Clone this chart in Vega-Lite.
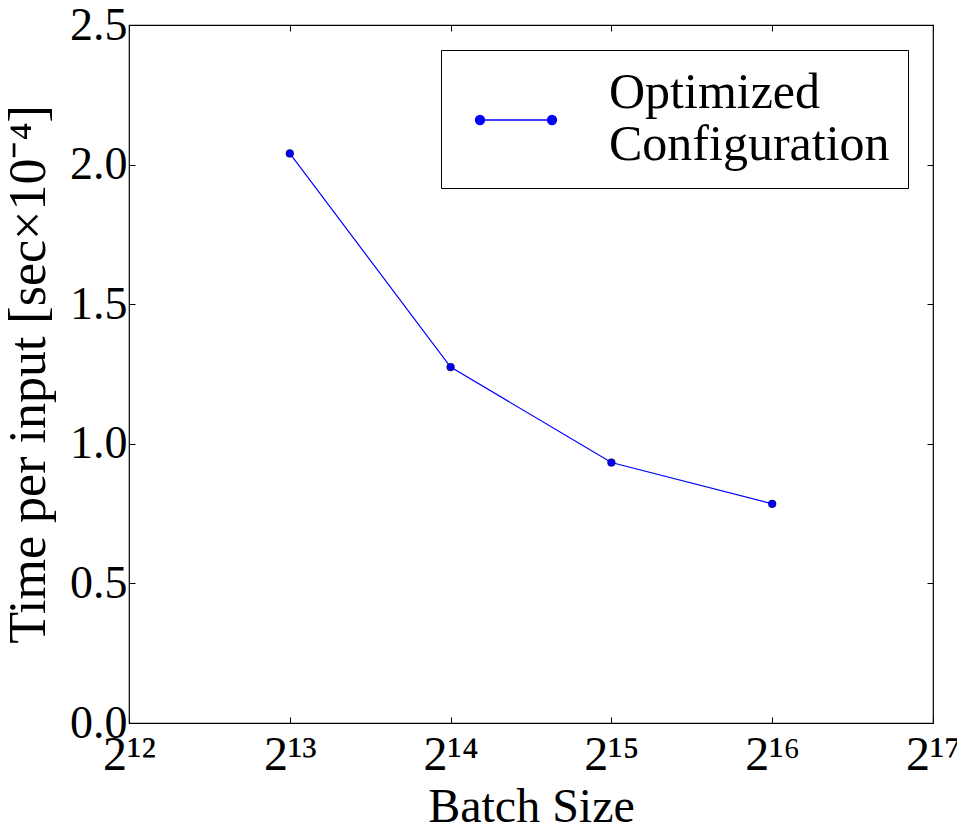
{
  "$schema": "https://vega.github.io/schema/vega-lite/v6.json",
  "autosize": {"type": "none"},
  "padding": {"left": 129, "top": 25, "right": 24, "bottom": 109},
  "width": 804,
  "height": 698,
  "background": "white",
  "config": {
    "view": {"stroke": "black", "strokeWidth": 1.2},
    "font": "Liberation Serif",
    "axis": {
      "labelFont": "Liberation Serif",
      "titleFont": "Liberation Serif",
      "labelColor": "black",
      "titleColor": "black",
      "titleFontWeight": "normal",
      "grid": false,
      "domain": false,
      "tickColor": "black",
      "tickWidth": 1,
      "tickSize": -6,
      "labelFlush": false,
      "labelOverlap": false
    },
    "legend": {
      "labelFont": "Liberation Serif",
      "labelColor": "black"
    }
  },
  "data": {
    "values": [
      {"batch": 8192, "time": 2.04, "series": "Optimized Configuration"},
      {"batch": 16384, "time": 1.275, "series": "Optimized Configuration"},
      {"batch": 32768, "time": 0.933, "series": "Optimized Configuration"},
      {"batch": 65536, "time": 0.785, "series": "Optimized Configuration"}
    ]
  },
  "layer": [
    {
      "mark": {"type": "line", "strokeWidth": 1.2},
      "encoding": {
        "x": {
          "field": "batch", "type": "quantitative",
          "scale": {"type": "log", "base": 2, "domain": [4096, 131072], "nice": false},
          "axis": {
            "orient": "bottom",
            "values": [4096, 8192, 16384, 32768, 65536, 131072],
            "labelExpr": "'2' + (round(log(datum.value)/LN2) == 12 ? '¹²' : round(log(datum.value)/LN2) == 13 ? '¹³' : round(log(datum.value)/LN2) == 14 ? '¹⁴' : round(log(datum.value)/LN2) == 15 ? '¹⁵' : round(log(datum.value)/LN2) == 16 ? '¹⁶' : '¹⁷')",
            "labelFontSize": 48,
            "labelPadding": 14,
            "title": "Batch Size",
            "titleFontSize": 48,
            "titlePadding": 4
          }
        },
        "y": {
          "field": "time", "type": "quantitative",
          "scale": {"domain": [0, 2.5], "nice": false, "zero": true},
          "axis": {
            "orient": "left",
            "values": [0, 0.5, 1, 1.5, 2, 2.5],
            "format": ".1f",
            "labelFontSize": 46,
            "labelPadding": 8,
            "labelBaseline": "middle",
            "title": "Time per input [sec×10⁻⁴]",
            "titleFontSize": 52,
            "titlePadding": 14
          }
        },
        "color": {
          "field": "series", "type": "nominal",
          "scale": {"range": ["#0000ff"]},
          "legend": {
            "title": null,
            "orient": "top-right",
            "offset": 25,
            "padding": 18,
            "strokeColor": "black",
            "fillColor": "white",
            "cornerRadius": 0,
            "labelFontSize": 50,
            "labelLimit": 600,
            "labelOffset": 100,
            "labelExpr": "['Optimized', 'Configuration']",
            "symbolType": "M-0.19,1.286L3.238,1.286M0.024,1.286A0.214,0.214,0,1,1,-0.404,1.286A0.214,0.214,0,1,1,0.024,1.286ZM3.452,1.286A0.214,0.214,0,1,1,3.024,1.286A0.214,0.214,0,1,1,3.452,1.286Z",
            "symbolSize": 1764,
            "symbolFillColor": "#0000ff",
            "symbolStrokeColor": "#0000ff",
            "symbolStrokeWidth": 1.3
          }
        }
      }
    },
    {
      "mark": {"type": "point", "filled": true, "size": 60, "stroke": "black", "strokeWidth": 0.5, "opacity": 1},
      "encoding": {
        "x": {
          "field": "batch", "type": "quantitative",
          "scale": {"type": "log", "base": 2, "domain": [4096, 131072], "nice": false},
          "axis": {"orient": "top", "values": [4096, 8192, 16384, 32768, 65536, 131072], "labels": false, "title": null}
        },
        "y": {
          "field": "time", "type": "quantitative",
          "scale": {"domain": [0, 2.5], "nice": false, "zero": true},
          "axis": {"orient": "right", "values": [0, 0.5, 1, 1.5, 2, 2.5], "labels": false, "title": null}
        },
        "color": {"field": "series", "type": "nominal", "scale": {"range": ["#0000ff"]}}
      }
    }
  ],
  "resolve": {"axis": {"x": "independent", "y": "independent"}}
}
